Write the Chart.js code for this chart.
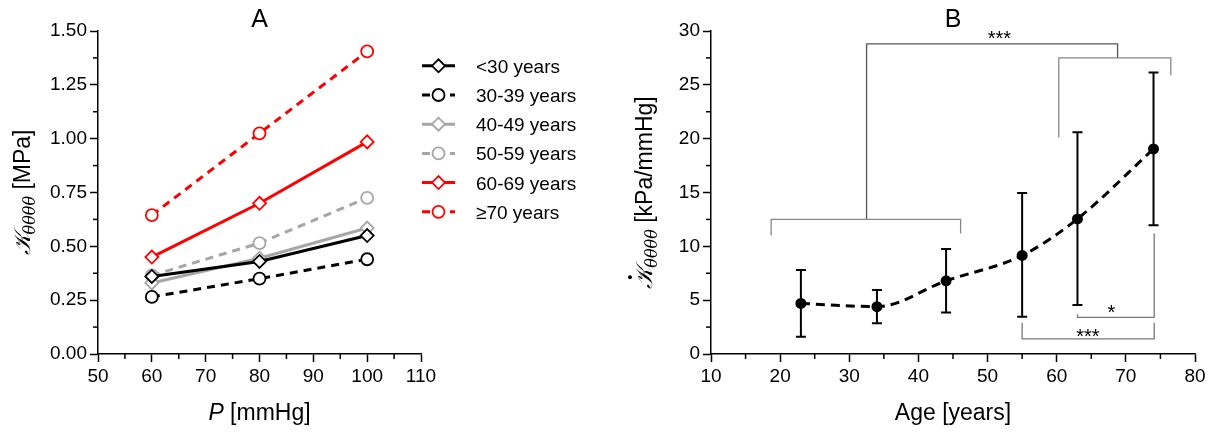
<!DOCTYPE html>
<html>
<head>
<meta charset="utf-8">
<script src="https://cdn.jsdelivr.net/npm/chart.js@4.4.1/dist/chart.umd.min.js"></script>
<style>
  html, body { margin: 0; padding: 0; background: #fff; }
  #wrap { position: relative; width: 1217px; height: 432px; overflow: hidden; }
  #ca { position: absolute; left: 0; top: 0; }
  #cb { position: absolute; left: 600px; top: 0; }
</style>
</head>
<body>
<div id="wrap">
  <canvas id="ca" width="600" height="432"></canvas>
  <canvas id="cb" width="617" height="432"></canvas>
</div>
<script>
// ---- panel A data: stiffness vs pressure per age group
const pressures = [60, 80, 100];
const groupLabels = ['<30 years', '30-39 years', '40-49 years', '50-59 years', '60-69 years', '≥70 years'];
const kUnder30 = [0.36, 0.43, 0.55];
const k30to39  = [0.265, 0.35, 0.44];
const k40to49  = [0.33, 0.445, 0.585];
const k50to59  = [0.365, 0.515, 0.725];
const k60to69  = [0.45, 0.70, 0.985];
const k70plus  = [0.645, 1.025, 1.405];
const xTicksA = [50, 110, 10];
const yTicksA = [0, 1.5, 0.25];

// ---- panel B data: stiffness slope vs age (mean, lower, upper)
const ages     = [23, 34, 44, 55, 63, 74];
const kDotMean = [4.7, 4.4, 6.8, 9.15, 12.55, 19.05];
const kDotLow  = [1.6, 2.85, 3.85, 3.45, 4.55, 11.95];
const kDotHigh = [7.8, 5.95, 9.75, 14.95, 20.6, 26.15];
const xTicksB = [10, 80, 10];
const yTicksB = [0, 30, 5];

// significance brackets, in data units (age, value)
const bracketYoung = [[18.7, 11.0], [18.7, 12.5], [46.1, 12.5], [46.1, 11.2]];
const bracketOld   = [[60.3, 20.1], [60.3, 27.5], [76.5, 27.5], [76.5, 25.9]];
const bracketTop   = [[32.5, 12.5], [32.5, 28.8], [68.8, 28.8], [68.8, 27.5]];
const bracket63v74 = [[63, 3.7], [63, 3.4], [74.1, 3.4], [74.1, 11.2]];
const bracket55v74 = [[55, 2.9], [55, 1.4], [74.1, 1.4], [74.1, 2.9]];
const sigMarks = [['***', 51.7, 29.6], ['*', 67.9, 4.1], ['***', 64.5, 1.95]];

const FONT = "'Liberation Sans', Arial, sans-serif";
const SERIF = "'DejaVu Serif', 'Liberation Serif', serif";
Chart.defaults.font.family = FONT;
Chart.defaults.font.size = 19;
Chart.defaults.color = '#000';
Chart.defaults.animation = false;

const seriesA = [kUnder30, k30to39, k40to49, k50to59, k60to69, k70plus];
const colorsA = ['#000000', '#000000', '#a6a6a6', '#a6a6a6', '#ff0000', '#ff0000'];
const dashedA = [false, true, false, true, false, true];

function axis(lims, widthOrHeight, isY, fmt) {
  return {
    type: 'linear', min: lims[0], max: lims[1],
    border: { display: true, color: '#000', width: 1.5 },
    grid: { display: true, drawOnChartArea: false, drawTicks: true, tickLength: 8, tickColor: '#000', tickWidth: 1.5 },
    ticks: { stepSize: lims[2], padding: 3, color: '#000', font: { size: 19 }, callback: fmt },
    afterFit: s => { if (isY) s.width = widthOrHeight; else s.height = widthOrHeight; }
  };
}

// minor ticks halfway between labelled ones
const minorTicks = {
  id: 'minorTicks',
  afterDraw(chart) {
    const ctx = chart.ctx, a = chart.chartArea;
    ctx.save();
    ctx.strokeStyle = '#000'; ctx.lineWidth = 1.5;
    ['x', 'y'].forEach(k => {
      const s = chart.scales[k], t = s.ticks;
      for (let i = 0; i < t.length - 1; i++) {
        const p = s.getPixelForValue((t[i].value + t[i + 1].value) / 2);
        ctx.beginPath();
        if (k === 'x') { ctx.moveTo(p, a.bottom); ctx.lineTo(p, a.bottom + 5); }
        else { ctx.moveTo(a.left, p); ctx.lineTo(a.left - 5, p); }
        ctx.stroke();
      }
    });
    ctx.restore();
  }
};

function drawParts(ctx, parts, x, y, rotate) {
  ctx.save();
  ctx.translate(x, y);
  if (rotate) ctx.rotate(-Math.PI / 2);
  ctx.textBaseline = 'alphabetic';
  ctx.textAlign = 'left';
  ctx.fillStyle = '#000';
  let total = 0;
  parts.forEach(p => { ctx.font = p.font; p.w = ctx.measureText(p.text).width; total += p.w; });
  let cx = -total / 2;
  parts.forEach(p => {
    ctx.font = p.font;
    ctx.fillText(p.text, cx, p.dy || 0);
    if (p.dot) { ctx.beginPath(); ctx.arc(cx + p.w * 0.55, -22, 2, 0, Math.PI * 2); ctx.fill(); }
    cx += p.w;
  });
  ctx.restore();
}

function kTitle(unit, dot) {
  return [
    { text: '𝒦', font: 'italic 23px ' + SERIF, dot: dot },
    { text: 'θθθθ', font: 'italic 16px ' + SERIF, dy: 5 },
    { text: ' ' + unit, font: '23px ' + FONT }
  ];
}

const labelsA = {
  id: 'labelsA',
  afterDraw(chart) {
    const ctx = chart.ctx, a = chart.chartArea;
    const mid = (a.left + a.right) / 2;
    ctx.save();
    ctx.fillStyle = '#000'; ctx.textAlign = 'center'; ctx.textBaseline = 'alphabetic';
    ctx.font = '25px ' + FONT;
    ctx.fillText('A', mid, 27);
    ctx.restore();
    drawParts(ctx, [{ text: 'P', font: 'italic 23px ' + FONT }, { text: ' [mmHg]', font: '23px ' + FONT }], mid, 420, false);
    drawParts(ctx, kTitle('[MPa]', false), 30, (a.top + a.bottom) / 2, true);

    // legend: short line with marker, then label
    chart.data.datasets.forEach((ds, i) => {
      const y = 65.8 + i * 29.2;
      ctx.save();
      ctx.strokeStyle = ds.borderColor; ctx.lineWidth = 3;
      ctx.setLineDash(ds.borderDash);
      ctx.beginPath(); ctx.moveTo(422, y); ctx.lineTo(455, y); ctx.stroke();
      ctx.setLineDash([]);
      ctx.lineWidth = ds.pointBorderWidth; ctx.fillStyle = '#fff';
      Chart.helpers.drawPoint(ctx, { pointStyle: ds.pointStyle, radius: ds.pointRadius, borderWidth: ds.pointBorderWidth }, 438.5, y);
      ctx.fillStyle = '#000'; ctx.font = '19px ' + FONT; ctx.textAlign = 'left'; ctx.textBaseline = 'alphabetic';
      ctx.fillText(ds.label, 476, y + 7);
      ctx.restore();
    });
  }
};

new Chart(document.getElementById('ca'), {
  type: 'scatter',
  data: {
    datasets: seriesA.map((s, i) => ({
      label: groupLabels[i],
      data: pressures.map((p, j) => ({ x: p, y: s[j] })),
      showLine: true,
      borderColor: colorsA[i], borderWidth: 3,
      borderDash: dashedA[i] ? [8, 6] : [],
      pointStyle: dashedA[i] ? 'circle' : 'rectRot',
      pointRadius: dashedA[i] ? 6 : 6.5,
      pointBorderWidth: 1.8,
      pointBorderColor: colorsA[i], pointBackgroundColor: '#fff',
      tension: 0
    }))
  },
  options: {
    responsive: false,
    layout: { padding: { left: 0, top: 31, right: 179, bottom: 0 } },
    plugins: { legend: { display: false }, tooltip: { enabled: false } },
    scales: {
      x: axis(xTicksA, 78, false, v => v),
      y: axis(yTicksA, 98, true, v => v.toFixed(2))
    }
  },
  plugins: [minorTicks, labelsA]
});

// ---- panel B
function drawPath(ctx, chart, pts, color) {
  const sx = chart.scales.x, sy = chart.scales.y;
  ctx.strokeStyle = color;
  ctx.beginPath();
  pts.forEach((p, i) => {
    const px = sx.getPixelForValue(p[0]), py = sy.getPixelForValue(p[1]);
    if (i) ctx.lineTo(px, py); else ctx.moveTo(px, py);
  });
  ctx.stroke();
}

const errorBars = {
  id: 'errorBars',
  beforeDatasetsDraw(chart) {
    const ctx = chart.ctx, sx = chart.scales.x, sy = chart.scales.y;
    ctx.save();
    ctx.strokeStyle = '#000'; ctx.lineWidth = 2;
    ages.forEach((a, i) => {
      const px = sx.getPixelForValue(a);
      const lo = sy.getPixelForValue(kDotLow[i]), hi = sy.getPixelForValue(kDotHigh[i]);
      ctx.beginPath();
      ctx.moveTo(px, lo); ctx.lineTo(px, hi);
      ctx.moveTo(px - 5, lo); ctx.lineTo(px + 5, lo);
      ctx.moveTo(px - 5, hi); ctx.lineTo(px + 5, hi);
      ctx.stroke();
    });
    ctx.restore();
  }
};

const labelsB = {
  id: 'labelsB',
  afterDraw(chart) {
    const ctx = chart.ctx, a = chart.chartArea, sx = chart.scales.x, sy = chart.scales.y;
    const mid = (a.left + a.right) / 2;
    ctx.save();
    ctx.lineWidth = 1.3;
    drawPath(ctx, chart, bracketTop, '#555');
    drawPath(ctx, chart, bracketYoung, '#888');
    drawPath(ctx, chart, bracketOld, '#888');
    drawPath(ctx, chart, bracket63v74, '#777');
    drawPath(ctx, chart, bracket55v74, '#777');
    ctx.fillStyle = '#000'; ctx.textAlign = 'center'; ctx.textBaseline = 'middle';
    ctx.font = '20px ' + FONT;
    sigMarks.forEach(m => ctx.fillText(m[0], sx.getPixelForValue(m[1]), sy.getPixelForValue(m[2]) + 4));
    ctx.font = '25px ' + FONT; ctx.textBaseline = 'alphabetic';
    ctx.fillText('B', mid, 27);
    ctx.restore();
    drawParts(ctx, [{ text: 'Age [years]', font: '23px ' + FONT }], mid, 420, false);
    drawParts(ctx, kTitle('[kPa/mmHg]', true), 52, (a.top + a.bottom) / 2, true);
  }
};

new Chart(document.getElementById('cb'), {
  type: 'scatter',
  data: {
    datasets: [{
      data: ages.map((a, i) => ({ x: a, y: kDotMean[i] })),
      showLine: true,
      borderColor: '#000', borderWidth: 3, borderDash: [9, 6],
      cubicInterpolationMode: 'monotone',
      pointRadius: 5.5, pointBackgroundColor: '#000', pointBorderColor: '#000', pointBorderWidth: 0
    }]
  },
  options: {
    responsive: false,
    layout: { padding: { left: 0, top: 31, right: 22, bottom: 0 } },
    plugins: { legend: { display: false }, tooltip: { enabled: false } },
    scales: {
      x: axis(xTicksB, 78, false, v => v),
      y: axis(yTicksB, 111, true, v => v)
    }
  },
  plugins: [minorTicks, errorBars, labelsB]
});
</script>
</body>
</html>
